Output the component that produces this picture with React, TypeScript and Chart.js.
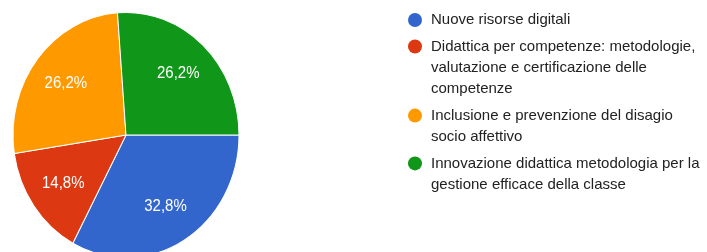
import React, { useEffect, useRef } from "react";
import { Chart, registerables } from "chart.js";

Chart.register(...registerables);

const categories: string[][] = [
  ["Nuove risorse digitali"],
  ["Didattica per competenze: metodologie,", "valutazione e certificazione delle", "competenze"],
  ["Inclusione e prevenzione del disagio", "socio affettivo"],
  ["Innovazione didattica metodologia per la", "gestione efficace della classe"],
];
const values: number[] = [32.8, 14.8, 26.2, 26.2];
const colors: string[] = ["#3366cc", "#dc3912", "#ff9900", "#109618"];

const FONT = "'Liberation Sans', Arial, sans-serif";
const STRETCH_Y = 1.085;

const fmt = (v: number) => v.toFixed(1).replace(".", ",") + "%";

export default function App() {
  const ref = useRef<HTMLCanvasElement | null>(null);

  useEffect(() => {
    const canvas = ref.current!;
    const stretchPlugin = {
      id: "stretchPie",
      beforeDatasetsDraw(chart: any) {
        const meta = chart.getDatasetMeta(0);
        const arc = meta.data[0];
        if (!arc) return;
        const ctx = chart.ctx;
        ctx.save();
        ctx.translate(arc.x, arc.y);
        ctx.scale(1, STRETCH_Y);
        ctx.translate(-arc.x, -arc.y);
      },
      afterDatasetsDraw(chart: any) {
        const ctx = chart.ctx;
        const meta = chart.getDatasetMeta(0);
        meta.data.forEach((arc: any, i: number) => {
          const { x, y, startAngle, endAngle, outerRadius } = arc.getProps(
            ["x", "y", "startAngle", "endAngle", "outerRadius"],
            true
          );
          const mid = (startAngle + endAngle) / 2;
          const r = outerRadius * 0.68;
          ctx.fillStyle = "#ffffff";
          ctx.font = `15px ${FONT}`;
          ctx.textAlign = "center";
          ctx.textBaseline = "middle";
          ctx.fillText(fmt(values[i]), x + Math.cos(mid) * r, y + Math.sin(mid) * r);
        });
        ctx.restore();
      },
    };

    const legendPlugin = {
      id: "sideLegend",
      afterDraw(chart: any) {
        const ctx = chart.ctx;
        const lineH = 21.3;
        const gap = 5.2;
        let y = 20;
        ctx.save();
        ctx.font = `15px ${FONT}`;
        ctx.textAlign = "left";
        ctx.textBaseline = "middle";
        categories.forEach((lines, i) => {
          ctx.fillStyle = colors[i];
          ctx.beginPath();
          ctx.arc(415, y, 7, 0, Math.PI * 2);
          ctx.fill();
          ctx.fillStyle = "#222222";
          lines.forEach((t, j) => ctx.fillText(t, 431, y + j * lineH));
          y += lines.length * lineH + gap;
        });
        ctx.restore();
      },
    };

    const chart = new Chart(canvas, {
      type: "pie",
      data: {
        labels: categories.map((l) => l.join(" ")),
        datasets: [
          {
            data: values,
            backgroundColor: colors,
            borderColor: "#ffffff",
            borderWidth: 1,
          },
        ],
      },
      options: {
        responsive: false,
        animation: false,
        rotation: 90,
        layout: { padding: { left: 12.5, right: 467.5, top: 21.5, bottom: 3.5 } },
        plugins: {
          legend: { display: false },
          tooltip: { enabled: false },
        },
      },
      plugins: [stretchPlugin, legendPlugin],
    });
    return () => chart.destroy();
  }, []);

  return (
    <canvas
      ref={ref}
      width={707}
      height={252}
      style={{ position: "absolute", left: 0, top: 0, background: "#ffffff" }}
    />
  );
}
